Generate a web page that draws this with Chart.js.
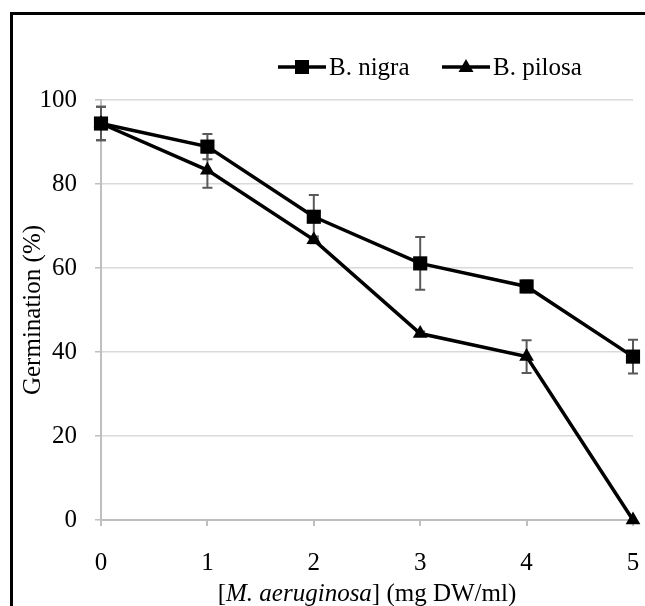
<!DOCTYPE html>
<html>
<head>
<meta charset="utf-8">
<script src="https://cdn.jsdelivr.net/npm/chart.js@4.4.1/dist/chart.umd.min.js"></script>
<style>
  html, body { margin: 0; padding: 0; background: #fff; overflow: hidden; width: 645px; height: 606px; }
  #frame { position: absolute; left: 10px; top: 12px; width: 800px; height: 800px; border: 3px solid #000; box-sizing: border-box; }
  #wrap { position: absolute; left: 0; top: 0; width: 645px; height: 606px; }
</style>
</head>
<body>
<div id="frame"></div>
<div id="wrap"><canvas id="chart" width="645" height="606"></canvas></div>
<script>
// ---- data ----
const concentrations = [0, 1, 2, 3, 4, 5];
const nigraGermination = [94.4, 88.9, 72.2, 61.1, 55.6, 38.9];
const nigraError = [4.0, 3.0, 5.2, 6.3, 1.4, 4.0];
const pilosaGermination = [94.4, 83.3, 66.7, 44.4, 38.9, 0];
const pilosaError = [4.0, 4.2, 0.8, 0.5, 3.9, 0];
const yTickValues = [0, 20, 40, 60, 80, 100];
const seriesNames = ['B. nigra', 'B. pilosa'];
const yTitle = 'Germination (%)';
const xTitleParts = [['[', false], ['M. aeruginosa', true], ['] (mg DW/ml)', false]];

const FAMILY = '"Liberation Serif", "Times New Roman", serif';
const FSIZE = 25;

function toPoints(vals) { return concentrations.map((c, i) => ({ x: c, y: vals[i] })); }

const errorBars = {
  id: 'errorBars',
  beforeDatasetsDraw(chart) {
    const { ctx, scales: { x, y } } = chart;
    ctx.save();
    ctx.strokeStyle = '#595959';
    ctx.lineWidth = 2;
    chart.data.datasets.forEach(ds => {
      ds.errors.forEach((e, i) => {
        if (!e) return;
        const p = ds.data[i];
        const px = x.getPixelForValue(p.x);
        const top = y.getPixelForValue(p.y + e);
        const bot = y.getPixelForValue(p.y - e);
        ctx.beginPath();
        ctx.moveTo(px, top); ctx.lineTo(px, bot);
        ctx.moveTo(px - 5, top); ctx.lineTo(px + 5, top);
        ctx.moveTo(px - 5, bot); ctx.lineTo(px + 5, bot);
        ctx.stroke();
      });
    });
    ctx.restore();
  }
};

const customLegend = {
  id: 'customLegend',
  afterDraw(chart) {
    const { ctx } = chart;
    const y = 67;
    const items = [
      { name: seriesNames[0], style: 'rect', x: 278 },
      { name: seriesNames[1], style: 'triangle', x: 442 }
    ];
    ctx.save();
    items.forEach(it => {
      ctx.strokeStyle = '#000';
      ctx.lineWidth = 3.5;
      ctx.beginPath();
      ctx.moveTo(it.x, y); ctx.lineTo(it.x + 48, y);
      ctx.stroke();
      ctx.fillStyle = '#000';
      const cx = it.x + 24;
      ctx.beginPath();
      if (it.style === 'rect') {
        ctx.rect(cx - 7, y - 7, 14, 14);
      } else {
        ctx.moveTo(cx, y - 8);
        ctx.lineTo(cx + 7.5, y + 5);
        ctx.lineTo(cx - 7.5, y + 5);
        ctx.closePath();
      }
      ctx.fill();
      ctx.font = FSIZE + 'px ' + FAMILY;
      ctx.textAlign = 'left';
      ctx.textBaseline = 'middle';
      ctx.fillText(it.name, it.x + 51, y + 1);
    });
    ctx.restore();
  }
};

const xTitle = {
  id: 'xTitle',
  afterDraw(chart) {
    const { ctx, chartArea } = chart;
    ctx.save();
    ctx.fillStyle = '#000';
    ctx.textBaseline = 'middle';
    ctx.textAlign = 'left';
    const parts = xTitleParts.map(([t, it]) => ({ t, f: (it ? 'italic ' : '') + FSIZE + 'px ' + FAMILY }));
    let total = 0;
    parts.forEach(p => { ctx.font = p.f; p.w = ctx.measureText(p.t).width; total += p.w; });
    let x0 = (chartArea.left + chartArea.right) / 2 - total / 2;
    parts.forEach(p => { ctx.font = p.f; ctx.fillText(p.t, x0, 594); x0 += p.w; });
    ctx.restore();
  }
};

const font = { family: FAMILY, size: FSIZE };

new Chart(document.getElementById('chart'), {
  type: 'line',
  data: {
    datasets: [
      {
        label: seriesNames[0],
        data: toPoints(nigraGermination),
        errors: nigraError,
        borderColor: '#000',
        backgroundColor: '#000',
        borderWidth: 3.5,
        pointStyle: 'rect',
        pointRadius: 10,
        pointBorderWidth: 0,
        tension: 0,
        clip: false
      },
      {
        label: seriesNames[1],
        data: toPoints(pilosaGermination),
        errors: pilosaError,
        borderColor: '#000',
        backgroundColor: '#000',
        borderWidth: 3.5,
        pointStyle: 'triangle',
        pointRadius: 8.5,
        pointBorderWidth: 0,
        tension: 0,
        clip: false
      }
    ]
  },
  options: {
    responsive: false,
    animation: false,
    layout: { autoPadding: false, padding: { top: 100, right: 12, left: 0, bottom: 0 } },
    plugins: { legend: { display: false }, tooltip: { enabled: false } },
    scales: {
      x: {
        type: 'linear',
        min: 0,
        max: 5,
        afterBuildTicks: s => { s.ticks = concentrations.map(v => ({ value: v })); },
        grid: { drawOnChartArea: false, drawTicks: true, tickLength: 6, color: '#bfbfbf', lineWidth: 2 },
        border: { color: '#bfbfbf', width: 2 },
        ticks: { font, color: '#000', padding: 22, maxRotation: 0 },
        afterFit: s => { s.height = 86; s.paddingLeft = 0; s.paddingRight = 0; }
      },
      y: {
        min: 0,
        max: 100,
        afterBuildTicks: s => { s.ticks = yTickValues.map(v => ({ value: v })); },
        grid: { color: '#d9d9d9', lineWidth: 1.5, tickLength: 6, drawTicks: true, tickColor: '#bfbfbf' },
        border: { color: '#bfbfbf', width: 2 },
        ticks: { font, color: '#000', padding: 18 },
        title: { display: true, text: yTitle, font: { family: FAMILY, size: 25 }, color: '#000', padding: { top: 18 } },
        afterFit: s => { s.width = 101; s.paddingTop = 0; s.paddingBottom = 0; }
      }
    }
  },
  plugins: [errorBars, customLegend, xTitle]
});
</script>
</body>
</html>
